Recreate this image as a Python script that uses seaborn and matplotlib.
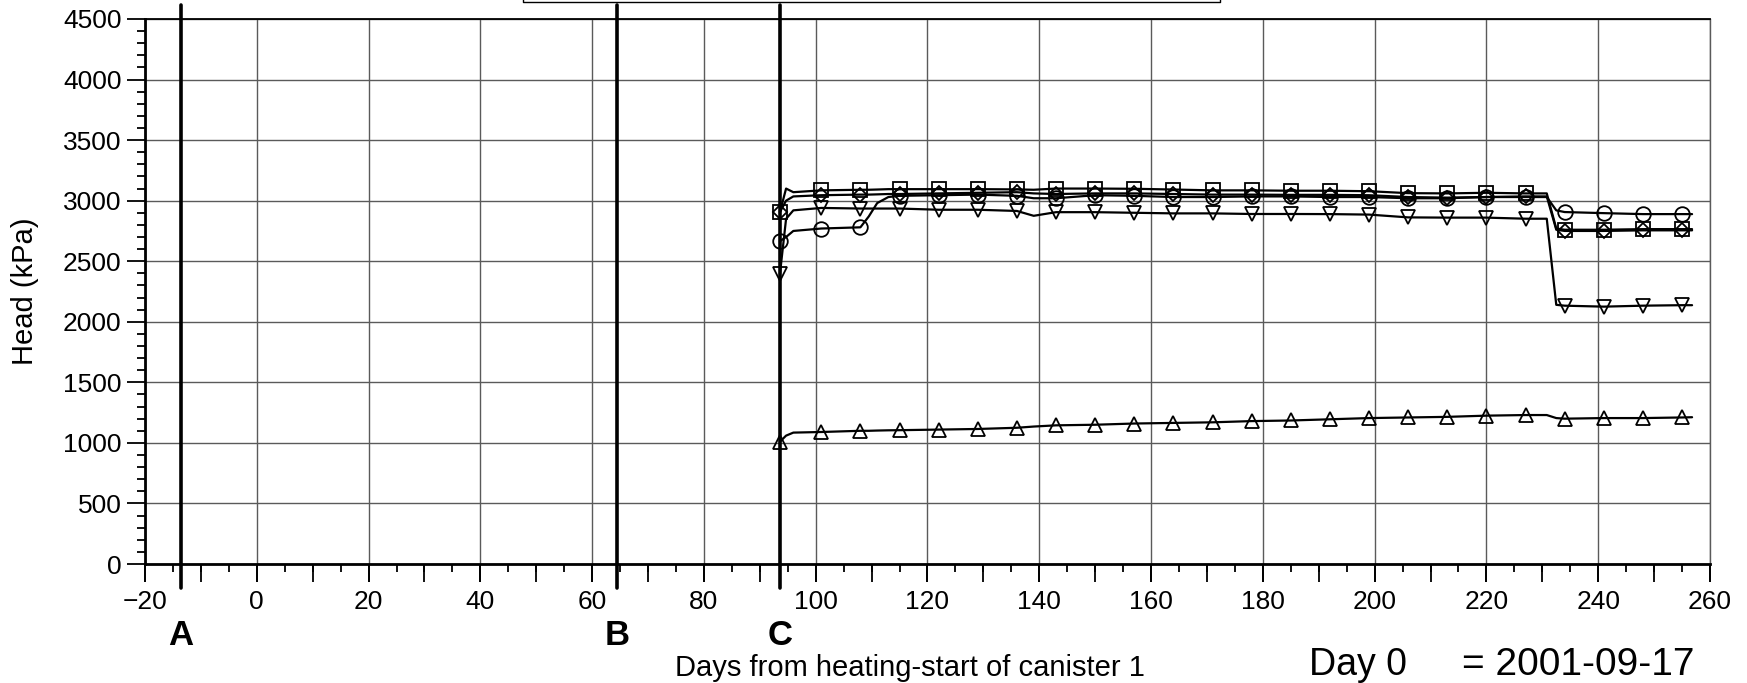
import matplotlib
matplotlib.use("Agg")
import matplotlib.pyplot as plt
from matplotlib.ticker import MultipleLocator, NullFormatter
from matplotlib.lines import Line2D
import seaborn as sns

sns.set_theme(style="white")
plt.rcParams['font.family'] = ['Liberation Sans', 'DejaVu Sans']

# days along the logged curves (markers only on some of them)
line_days = [93.6, 94.7, 96, 101, 108, 109.5, 111, 113, 115, 122, 129, 136, 139,
             143, 150, 157, 164, 171, 178, 185, 192, 199, 206, 213, 220, 227,
             230.8, 232.5, 234, 241, 248, 255, 256.8]
marker_days = [93.6, 101, 108, 115, 122, 129, 136, 143, 150, 157, 164, 171, 178,
               185, 192, 199, 206, 213, 220, 227, 234, 241, 248, 255]

head_square = [2906, 3100, 3070, 3085, 3090, 3090, 3092, 3095, 3095, 3095, 3095, 3093, 3090,
               3100, 3100, 3098, 3092, 3085, 3085, 3082, 3082, 3078, 3062, 3060, 3065, 3060,
               3060, 2770, 2760, 2760, 2765, 2765, 2765]
head_diamond = [2906, 3000, 3035, 3045, 3050, 3050, 3052, 3055, 3055, 3060, 3065, 3070, 3060,
                3055, 3060, 3060, 3055, 3050, 3050, 3048, 3048, 3045, 3030, 3025, 3030, 3035,
                3035, 2760, 2750, 2750, 2755, 2755, 2755]
head_circle = [2665, 2700, 2750, 2770, 2780, 2870, 2980, 3030, 3040, 3045, 3050, 3040, 3020,
               3020, 3045, 3040, 3030, 3030, 3035, 3035, 3030, 3030, 3020, 3020, 3030, 3030,
               3030, 2920, 2906, 2897, 2889, 2889, 2889]
head_tri_down = [2395, 2850, 2920, 2940, 2935, 2935, 2935, 2935, 2935, 2925, 2925, 2915, 2875,
                 2905, 2905, 2900, 2895, 2895, 2890, 2890, 2889, 2885, 2862, 2860, 2860, 2851,
                 2851, 2140, 2133, 2125, 2133, 2137, 2137]
head_tri_up = [1010, 1060, 1085, 1090, 1100, 1100, 1102, 1104, 1105, 1110, 1115, 1125, 1135,
               1145, 1150, 1160, 1165, 1170, 1180, 1185, 1195, 1205, 1210, 1215, 1225, 1230,
               1230, 1205, 1200, 1205, 1205, 1210, 1212]

event_days = [-13.6, 64.5, 93.6]
event_labels = ['A', 'B', 'C']

series = [
    (head_square, 's', 10.5),
    (head_diamond, 'D', 7),
    (head_circle, 'o', 10.5),
    (head_tri_down, 'v', 10.5),
    (head_tri_up, '^', 10.5),
]

fig = plt.figure(figsize=(17.47, 6.83), dpi=100)
ax = fig.add_axes([0.0830, 0.1742, 0.8958, 0.7980])

mark_idx = [i for i, d in enumerate(line_days) if d in marker_days]
for vals, mk, ms in series:
    sns.lineplot(x=line_days, y=vals, ax=ax, color='black', linewidth=1.6,
                 marker=mk, markersize=ms, markevery=mark_idx,
                 markerfacecolor='none', markeredgecolor='black',
                 markeredgewidth=1.3, estimator=None, sort=False, errorbar=None)

ax.set_xlim(-20, 260)
ax.set_ylim(0, 4500)

# grid
ax.xaxis.set_major_locator(MultipleLocator(20))
ax.xaxis.set_minor_locator(MultipleLocator(5))
ax.yaxis.set_major_locator(MultipleLocator(500))
ax.yaxis.set_minor_locator(MultipleLocator(100))
ax.grid(True, which='major', color='#5a5a5a', linewidth=1.0)
ax.tick_params(axis='both', which='major', direction='out', length=13, width=1.3,
               color='black', labelsize=19, labelcolor='black')
ax.tick_params(axis='x', which='major', pad=6)
ax.tick_params(axis='y', which='major', pad=4)
ax.tick_params(axis='both', which='minor', direction='out', length=6, width=1.3, color='black')
ax.tick_params(bottom=True, left=True, which='both')

# ticks at every 10 days (long, unlabeled)
sec = ax.secondary_xaxis('bottom')
sec.xaxis.set_major_locator(MultipleLocator(10))
sec.xaxis.set_major_formatter(NullFormatter())
sec.tick_params(direction='out', length=13, width=1.3, color='black')
sec.spines['bottom'].set_visible(False)

for side in ['left', 'bottom', 'top']:
    ax.spines[side].set_color('black')
ax.spines['left'].set_linewidth(2.0)
ax.spines['bottom'].set_linewidth(2.0)
ax.spines['top'].set_linewidth(1.3)
ax.spines['right'].set_color('#5a5a5a')
ax.spines['right'].set_linewidth(1.0)

# event lines A, B, C
for d, lab in zip(event_days, event_labels):
    ax.axvline(d, ymin=-0.044, ymax=1.026, color='black', linewidth=2.6, clip_on=False, zorder=5)
    ax.text(d, -0.131, lab, transform=ax.get_xaxis_transform(), ha='center', va='center',
            fontsize=25, fontweight='bold', color='black')

ax.set_xlabel('')
ax.set_ylabel('Head (kPa)', fontsize=21, color='black')
ax.yaxis.set_label_coords(-0.068, 0.5)

fig.text(910 / 1747, 1 - 668 / 683, 'Days from heating-start of canister 1',
         ha='center', va='center', fontsize=21, color='black')
fig.text(1309 / 1747, 1 - 665 / 683, 'Day 0', ha='left', va='center', fontsize=27, color='black')
fig.text(1462 / 1747, 1 - 665 / 683, '= 2001-09-17', ha='left', va='center', fontsize=28,
         color='black')

# bottom edge of a legend box cut off at the top
x0, x1 = 523 / 1747, 1220 / 1747
yb = 1 - 1.5 / 683
fig.add_artist(Line2D([x0, x0, x1, x1], [1.01, yb, yb, 1.01], color='black', linewidth=1.0))

fig.savefig('out.png', dpi=100, facecolor='white')
